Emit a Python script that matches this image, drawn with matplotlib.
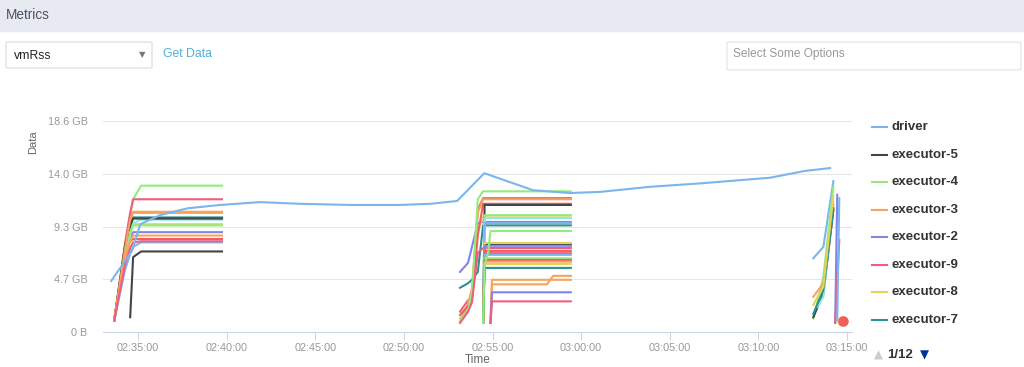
import datetime as dt
import matplotlib
matplotlib.use("Agg")
import matplotlib.pyplot as plt
import matplotlib.dates as mdates
from matplotlib.lines import Line2D
from matplotlib.patches import Rectangle, FancyBboxPatch

W, H = 1024, 367

# highcharts default palette
BLUE, BLACK, GREEN, ORANGE, PURPLE = "#7cb5ec", "#434348", "#90ed7d", "#f7a35c", "#8085e9"
PINK, YELLOW, TEAL, RED, CYAN = "#f15c80", "#e4d354", "#2b908f", "#f45b5b", "#91e8e1"

N = None

# ---- data (GB) ----
DRIVER_TIME = ["02:33:29", "02:34:40", "02:35:07", "02:36:14", "02:37:46", "02:39:38",
               "02:41:53", "02:44:09", "02:46:58", "02:49:47", "02:51:29", "02:53:00",
               "02:54:32", "02:57:17", "02:59:23", "03:01:04", "03:03:53", "03:06:43",
               "03:10:40", "03:12:38", "03:14:03"]
DRIVER_GB = [4.5, 7.2, 9.5, 10.3, 10.9, 11.2, 11.45, 11.3, 11.2, 11.2, 11.3, 11.55,
             14.0, 12.5, 12.25, 12.35, 12.8, 13.1, 13.6, 14.2, 14.45]

RUN1_TIME = ["02:33:39", "02:34:16", "02:34:33", "02:34:43", "02:35:10", "02:39:44"]
RUN1_GB = [
    [N, N, 1.3, 6.6, 7.1, 7.1],
    [1.0, 7.5, 10.3, 11.7, 12.9, 12.9],
    [1.0, 7.6, 10.0, 10.6, 10.6, 10.6],
    [1.0, 6.5, 8.3, 8.8, 8.8, 8.8],
    [1.0, 7.9, 10.5, 11.7, 11.7, 11.7],
    [1.0, 7.0, 9.0, 9.5, 9.5, 9.5],
    [1.0, 7.6, 9.3, 10.1, 10.1, 10.1],
    [1.0, 7.3, 8.0, 8.2, 8.2, 8.2],
    [1.0, 6.0, 8.6, 9.6, 9.9, 9.9],
    [1.0, 5.5, 6.9, 7.5, 7.9, 7.9],
    [1.0, 7.6, 9.4, 10.0, 10.0, 10.0],
    [1.0, 6.8, 8.8, 9.4, 9.4, 9.4],
    [1.0, 6.6, 8.0, 8.5, 8.5, 8.5],
    [1.0, 7.4, 9.9, 10.5, 10.5, 10.5],
    [1.0, 6.0, 7.4, 7.9, 8.0, 8.0],
]
RUN1_COLORS = [BLACK, GREEN, ORANGE, PURPLE, PINK, YELLOW, TEAL, RED, CYAN, BLUE,
               BLACK, GREEN, ORANGE, ORANGE, PINK]

RUN2_TIME = ["02:53:10", "02:53:37", "02:53:50", "02:54:10", "02:54:28", "02:54:33",
             "02:54:45", "02:54:53", "02:54:58", "02:58:04", "02:58:25", "02:59:25"]
RUN2_GB = [
    [5.3, 6.1, N, 9.6, 9.7, N, N, N, N, N, N, 9.7],
    [1.8, 2.8, 3.0, 10.8, 11.8, N, N, N, N, N, N, 11.8],
    [3.9, 4.3, 4.6, 5.3, 9.4, N, N, N, N, N, N, 9.4],
    [1.2, 2.0, 3.0, 9.0, 10.1, N, N, N, N, N, N, 10.1],
    [0.9, 2.5, 3.8, 10.5, 11.7, N, N, N, N, N, N, 11.7],
    [1.5, 2.3, 2.8, 8.5, 11.3, N, N, N, N, N, N, 11.3],
    [1.0, 2.0, 3.4, 11.7, 12.4, N, N, N, N, N, N, 12.4],
    [0.8, 1.8, 2.6, 7.0, 7.4, N, N, N, N, N, N, 7.4],
    [N, N, N, N, 0.8, 11.2, N, N, N, N, N, 11.2],
    [N, N, N, N, 0.8, 10.3, N, N, N, N, N, 10.3],
    [N, N, N, N, 0.8, 10.05, N, N, N, N, N, 10.05],
    [N, N, N, N, 0.8, 9.6, N, N, N, N, N, 9.6],
    [N, N, N, N, 0.8, 7.75, N, N, N, N, N, 7.75],
    [N, N, N, N, 0.8, 7.85, N, N, N, N, N, 7.85],
    [N, N, N, N, 0.8, 7.6, N, N, N, N, N, 7.6],
    [N, N, N, N, 0.8, 7.15, N, N, N, N, N, 7.15],
    [N, N, N, N, 0.8, 6.95, N, N, N, N, N, 6.95],
    [N, N, N, N, 0.8, 6.8, N, N, N, N, N, 6.8],
    [N, N, N, N, 0.8, 6.5, N, N, N, N, N, 6.5],
    [N, N, N, N, 0.8, 6.35, N, N, N, N, N, 6.35],
    [N, N, N, N, 0.8, 6.2, N, N, N, N, N, 6.2],
    [N, N, N, N, 0.8, 6.0, N, N, N, N, N, 6.0],
    [N, N, N, N, 0.8, 5.65, N, N, N, N, N, 5.65],
    [N, N, N, N, 0.8, 5.9, 7.0, 8.9, N, N, N, 8.9],
    [N, N, N, N, N, N, N, 0.8, 4.2, 4.2, 4.95, 4.95],
    [N, N, N, N, N, N, N, 0.8, 4.6, N, N, 4.6],
    [N, N, N, N, N, N, N, 0.8, 3.5, N, N, 3.5],
    [N, N, N, N, N, N, N, 0.8, 2.7, N, N, 2.7],
]
RUN2_COLORS = [PURPLE, PINK, TEAL, YELLOW, ORANGE, RED, GREEN, PINK,
               BLACK, GREEN, CYAN, BLUE, BLACK, YELLOW, PURPLE, RED, PINK, BLUE,
               GREEN, RED, ORANGE, YELLOW, TEAL, GREEN,
               ORANGE, ORANGE, PURPLE, PINK]

RUN3_TIME = ["03:13:06", "03:13:20", "03:13:40", "03:14:14", "03:14:20", "03:14:27", "03:14:34"]
RUN3_GB = [
    [6.5, N, 7.5, 13.3, N, N, N],
    [1.2, N, 4.85, 12.8, N, N, N],
    [1.3, N, 3.4, 10.75, N, N, N],
    [N, 2.2, 3.1, 11.5, N, N, N],
    [3.1, N, 4.3, 11.2, N, N, N],
    [1.6, N, 3.7, 10.9, N, N, N],
    [2.4, N, 4.0, 12.0, N, N, N],
    [N, N, N, N, 0.8, 12.1, N],
    [N, N, N, N, 0.8, N, 8.1],
    [N, N, N, N, N, 1.0, 11.8],
]
RUN3_COLORS = [BLUE, GREEN, BLACK, CYAN, ORANGE, TEAL, YELLOW, PURPLE, PINK, BLUE]

# single-sample series (drawn as dots)
DOT_TIME = ["03:14:42", "03:14:47"]
DOT_GB = [0.97, 0.97]
DOT_COLORS = [YELLOW, RED]

LEGEND_NAMES = ["driver", "executor-5", "executor-4", "executor-3",
                "executor-2", "executor-9", "executor-8", "executor-7"]
LEGEND_COLORS = [BLUE, BLACK, GREEN, ORANGE, PURPLE, PINK, YELLOW, TEAL]

Y_TICKS = [0, 4.65, 9.3, 13.95, 18.6]
Y_LABELS = ["0 B", "4.7 GB", "9.3 GB", "14.0 GB", "18.6 GB"]


def tt(s):
    return dt.datetime.strptime("2020-01-01 " + s, "%Y-%m-%d %H:%M:%S")


def fx(x):
    return x / W


def fy(y):
    return 1 - y / H


plt.rcParams["font.family"] = ["Liberation Sans", "DejaVu Sans"]
fig = plt.figure(figsize=(W / 100, H / 100), dpi=100)

# page chrome
fig.patches.append(Rectangle((0, fy(31)), 1, 31 / H, transform=fig.transFigure,
                             color="#e7eaf1", zorder=0))
fig.text(fx(6), fy(15), "Metrics", fontsize=9.8, color="#4b5263", va="center")
fig.patches.append(FancyBboxPatch((fx(6), fy(68)), (152 - 6) / W, (68 - 42) / H,
                                  boxstyle="round,pad=0,rounding_size=0.003",
                                  transform=fig.transFigure, fc="white", ec="#dadada", lw=0.8))
fig.text(fx(14), fy(56), "vmRss", fontsize=8.8, color="#222222", va="center")
fig.text(fx(142), fy(55), "\u25bc", fontsize=6, color="#777777", va="center", ha="center",
         family="DejaVu Sans")
fig.text(fx(163), fy(54), "Get Data", fontsize=8.8, color="#4bb0de", va="center")
fig.patches.append(FancyBboxPatch((fx(727), fy(70)), (1021 - 727) / W, (70 - 42) / H,
                                  boxstyle="round,pad=0,rounding_size=0.003",
                                  transform=fig.transFigure, fc="white", ec="#dde3ee", lw=0.8))
fig.text(fx(733), fy(54), "Select Some Options", fontsize=8.6, color="#999999", va="center")

# chart
ax = fig.add_axes([fx(103), fy(332), (852 - 103) / W, (332 - 121) / H])


def draw_run(times, rows, colors):
    ts = [tt(s) for s in times]
    for row, c in zip(rows, colors):
        xs = [t for t, v in zip(ts, row) if v is not None]
        ys = [v for v in row if v is not None]
        ax.plot(xs, ys, color=c, lw=1.5, solid_joinstyle="round", zorder=2)


draw_run(RUN1_TIME, RUN1_GB, RUN1_COLORS)
draw_run(RUN2_TIME, RUN2_GB, RUN2_COLORS)
draw_run(RUN3_TIME, RUN3_GB, RUN3_COLORS)
ax.plot([tt(s) for s in DRIVER_TIME], DRIVER_GB, color=BLUE, lw=1.5,
        solid_joinstyle="round", zorder=3)
for s, v, c in zip(DOT_TIME, DOT_GB, DOT_COLORS):
    ax.plot([tt(s)], [v], "o", color=c, ms=6.5, zorder=4, clip_on=False)

ax.set_xlim(tt("02:33:01"), tt("03:15:17"))
ax.set_ylim(0, 18.6)
ax.set_yticks(Y_TICKS)
ax.set_yticklabels(Y_LABELS)
ax.xaxis.set_major_locator(mdates.MinuteLocator(byminute=range(0, 60, 5)))
ax.xaxis.set_major_formatter(mdates.DateFormatter("%H:%M:%S"))
ax.yaxis.grid(True, color="#e6e6e6", lw=0.75)
ax.set_axisbelow(True)
for sp in ["left", "right", "top"]:
    ax.spines[sp].set_visible(False)
ax.spines["bottom"].set_color("#ccd6eb")
ax.spines["bottom"].set_linewidth(0.8)
ax.tick_params(axis="y", length=0, pad=11, labelsize=7.8, labelcolor="#999999")
ax.tick_params(axis="x", length=6, width=0.75, color="#ccd6eb", pad=2,
               labelsize=7.8, labelcolor="#999999")

fig.text(fx(33), fy(142), "Data", rotation=90, fontsize=8, color="#666666",
         ha="center", va="center")
fig.text(fx(478), fy(366), "Time", fontsize=8.5, color="#666666", ha="center", va="bottom")

# legend (page 1 of 12)
leg_y = [127, 155, 182, 210, 237, 265, 292, 320]
for name, c, y in zip(LEGEND_NAMES, LEGEND_COLORS, leg_y):
    fig.lines.append(Line2D([fx(872), fx(887)], [fy(y), fy(y)], color=c, lw=1.5,
                            transform=fig.transFigure))
    fig.text(fx(892), fy(y), name, fontsize=9.5, fontweight="bold", color="#333333",
             va="center")
fig.text(fx(878), fy(355), "\u25b2", fontsize=8.5, color="#cccccc", ha="center",
         va="center", family="DejaVu Sans")
fig.text(fx(887), fy(355), "1/12", fontsize=9.5, fontweight="bold", color="#333333",
         va="center")
fig.text(fx(924), fy(355), "\u25bc", fontsize=8.5, color="#003399", ha="center",
         va="center", family="DejaVu Sans")

fig.savefig("out.png", dpi=100)
